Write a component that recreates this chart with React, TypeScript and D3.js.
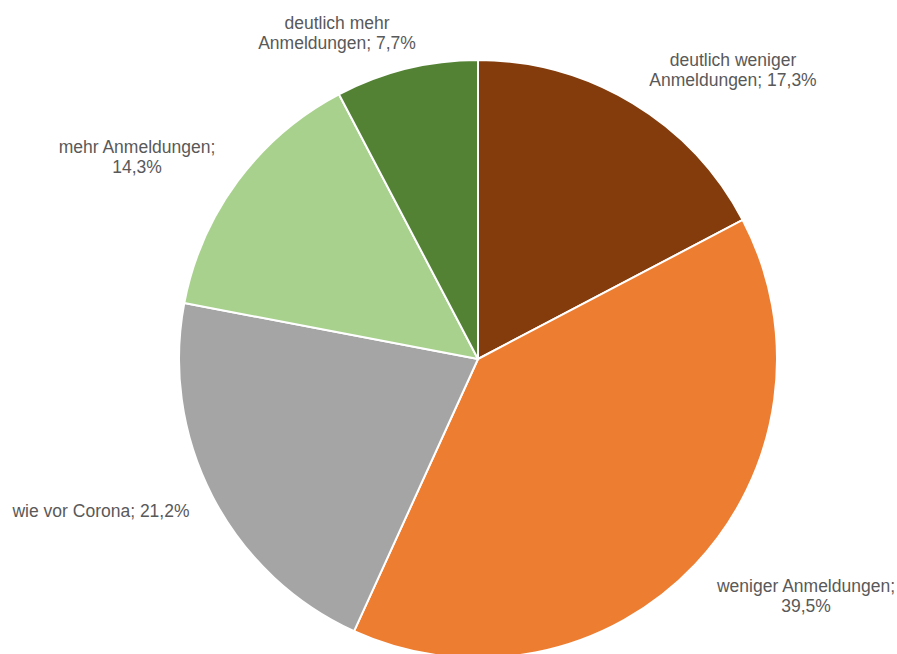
import React from "react";
import * as d3 from "d3";

const categories = [
  "deutlich weniger Anmeldungen",
  "weniger Anmeldungen",
  "wie vor Corona",
  "mehr Anmeldungen",
  "deutlich mehr Anmeldungen",
];
const values = [17.3, 39.5, 21.2, 14.3, 7.7];
const valueLabels = ["17,3%", "39,5%", "21,2%", "14,3%", "7,7%"];
const colors = ["#843C0C", "#ED7D31", "#A5A5A5", "#A9D18E", "#548235"];
const labelLines = [
  ["deutlich weniger", "Anmeldungen; 17,3%"],
  ["weniger Anmeldungen;", "39,5%"],
  ["wie vor Corona; 21,2%"],
  ["mehr Anmeldungen;", "14,3%"],
  ["deutlich mehr", "Anmeldungen; 7,7%"],
];
const labelPos = [
  [733, 66],
  [806, 592],
  [101, 517],
  [137, 153],
  [337, 29],
];

export default function App() {
  const width = 897;
  const height = 654;
  const cx = 478;
  const cy = 359;
  const r = 299;
  const pie = d3.pie<number>().sort(null).value((d) => d);
  const arcs = pie(values);
  const arc = d3.arc<d3.PieArcDatum<number>>().innerRadius(0).outerRadius(r);
  return (
    <svg
      width={width}
      height={height}
      style={{ position: "absolute", left: 0, top: 0, background: "#fff" }}
    >
      <g transform={`translate(${cx},${cy})`}>
        {arcs.map((a, i) => (
          <path
            key={categories[i]}
            d={arc(a) || ""}
            fill={colors[i]}
            stroke="#fff"
            strokeWidth={2}
            strokeLinejoin="round"
          />
        ))}
      </g>
      {labelLines.map((lines, i) => (
        <text
          key={i}
          x={labelPos[i][0]}
          y={labelPos[i][1]}
          textAnchor="middle"
          fontFamily="'Liberation Sans', Arial, sans-serif"
          fontSize={17.5}
          fill="#595959"
        >
          {lines.map((l, j) => (
            <tspan key={j} x={labelPos[i][0]} dy={j === 0 ? 0 : 20}>
              {l}
            </tspan>
          ))}
        </text>
      ))}
    </svg>
  );
}
